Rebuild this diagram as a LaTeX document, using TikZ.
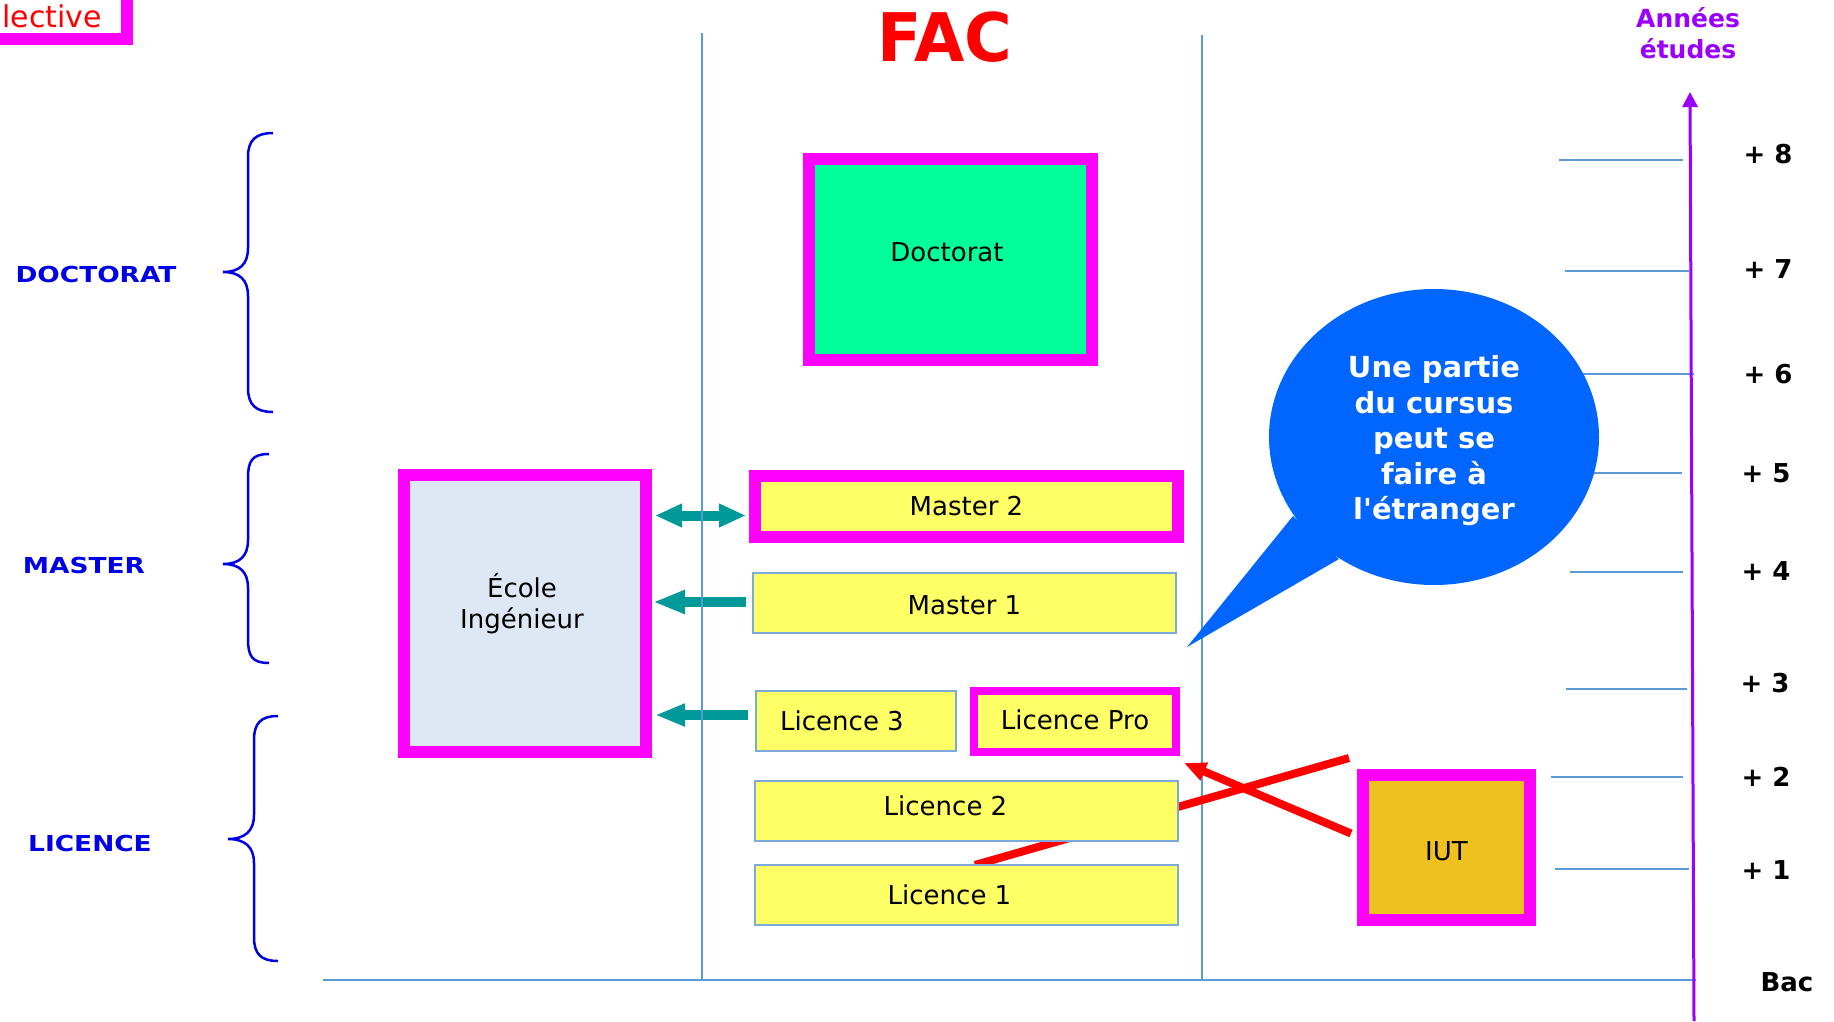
\documentclass[tikz,border=0pt]{standalone}
\usepackage{fontspec}
\setmainfont{DejaVu Sans}
\newfontfamily\bubfont{DejaVu Sans}
\usepackage{graphicx}
\usetikzlibrary{arrows.meta,calc,shapes.geometric}
\definecolor{mag}{RGB}{255,0,255}
\definecolor{ylw}{RGB}{255,255,102}
\definecolor{thinblue}{RGB}{125,170,220}
\definecolor{gridblue}{RGB}{91,155,213}
\definecolor{tealc}{RGB}{0,153,153}
\definecolor{bubblue}{RGB}{0,102,255}
\definecolor{iutc}{RGB}{238,192,32}
\definecolor{ecolec}{RGB}{222,232,244}
\definecolor{docc}{RGB}{0,255,153}
\definecolor{purp}{RGB}{153,0,255}
\definecolor{lblue}{RGB}{0,0,230}
\definecolor{redc}{RGB}{255,0,0}
\newcommand\myfs[2]{\fontsize{#1}{#2}\selectfont}
\newcommand\lift[1]{\rule[-#1]{0pt}{0pt}}
\pgfdeclarelayer{bg}
\pgfsetlayers{bg,main}
\newcommand\accol[6]{\draw[bracestyle] (#1,#4) .. controls +(-17,0) and +(0,-17) .. (#2,#4+24) -- (#2,#6-24) .. controls +(0,16) and +(17,0) .. (#3,#6) .. controls +(17,0) and +(0,-16) .. (#2,#6+24) -- (#2,#5-24) .. controls +(0,17) and +(-17,0) .. (#1,#5);}
\begin{document}
\begin{tikzpicture}[x=1pt,y=-1pt,
  box/.style={rectangle, inner sep=0pt, outer sep=0pt, font=\myfs{26}{31}},
  thickbox/.style={box, draw=mag, line width=12pt},
  thinbox/.style={box, draw=thinblue, line width=2pt, fill=ylw},
  gridline/.style={draw=gridblue, line width=1.5pt},
  tickline/.style={draw=gridblue, line width=2pt},
  tealarrow/.style={draw=tealc, line width=10pt},
  redline/.style={draw=redc, line width=8pt},
  bracestyle/.style={draw=lblue, line width=2.5pt},
  levellabel/.style={text=lblue, font=\bfseries\myfs{22}{22}, inner sep=0pt},
  yearlabel/.style={text=black, font=\bfseries\myfs{26}{26}, inner sep=0pt}]
\useasboundingbox (0,0) rectangle (1834,1021);

% ---- boxes ----
\node[thickbox, fill=docc, minimum width=283pt, minimum height=201pt] (doct) at (950.5,259.5) {};
\node[box] (doctxt) at (947,252) {Doctorat};
\node[thickbox, fill=ecolec, minimum width=242pt, minimum height=277pt] (ecole) at (525,613.5) {};
\node[box, align=center] (ecoletxt) at (522,604) {École\\Ingénieur};
\node[thickbox, fill=ylw, minimum width=423pt, minimum height=61pt] (m2) at (966.5,506.5) {Master 2};
\node[thinbox, minimum width=423pt, minimum height=60pt] (m1) at (964.5,603) {\rule{0pt}{23pt}Master 1};
\node[thinbox, minimum width=200pt, minimum height=60pt] (l3) at (856,721) {Licence 3\hspace*{28pt}};
\node[box, draw=mag, line width=8pt, fill=ylw, minimum width=202pt, minimum height=61pt] (lpro) at (1075,721.5) {\lift{4pt}Licence Pro};
\node[thinbox, minimum width=423pt, minimum height=60pt] (l2) at (966.5,811) {\lift{11pt}Licence 2\hspace*{42pt}};
\node[thinbox, minimum width=423pt, minimum height=60pt] (l1) at (966.5,895) {Licence 1\hspace*{34pt}};
\node[thickbox, fill=iutc, minimum width=167pt, minimum height=145pt] (iut) at (1446.5,847.5) {\rule{0pt}{27pt}IUT};

% ---- background: teal arrows, grid, red line ----
\begin{pgfonlayer}{bg}
\draw[tealarrow, {Triangle[length=27pt,width=22pt]}-{Triangle[length=27pt,width=22pt]}]
  ($(ecole.east |- m2.west)+(9,9)$) -- ($(m2.west)+(-9,9)$);
\draw[tealarrow, -{Triangle[length=32pt,width=22pt]}]
  ($(m1.west)+(-7,-1)$) -- ($(ecole.east |- m1.west)+(7,-1)$);
\draw[tealarrow, -{Triangle[length=30pt,width=21pt]}]
  ($(l3.west)+(-8,-6)$) -- ($(ecole.east |- l3.west)+(9,-6)$);
% grid
\draw[gridline] (702,33) -- (702,980);
\draw[gridline] (1202,35) -- (1202,980);
\draw[gridline] (323,980) -- (1696,980);
\draw[tickline] (1559,160) -- (1683,160);
\draw[tickline] (1565,271) -- (1689,271);
\draw[tickline] (1570,374) -- (1694,374);
\draw[tickline] (1570,473) -- (1682,473);
\draw[tickline] (1570,572) -- (1683,572);
\draw[tickline] (1566,689) -- (1687,689);
\draw[tickline] (1551,777) -- (1683,777);
\draw[tickline] (1555,869) -- (1689,869);
% red line behind Licence 2
\draw[redline] ($(l1.north west)+(220,0)$) -- ($(iut.north west)+(-14,-17)$);
\end{pgfonlayer}

% red arrow
\draw[redline, -{Triangle[length=22pt,width=18pt]}] ($(iut.west)+(-12,-14)$) -- ($(lpro.south east)+(8,11)$);

% ---- braces and level labels ----
\accol{273}{248}{223}{133}{412}{272}
\accol{269}{248}{223}{454}{663}{564}
\accol{278}{254}{228}{716}{961}{839}
\node[levellabel] (lbdoc) at (96,274) {\scalebox{1.2}[1]{DOCTORAT}};
\node[levellabel] (lbmas) at (84,565) {\scalebox{1.2}[1]{MASTER}};
\node[levellabel] (lblic) at (90,843) {\scalebox{1.2}[1]{LICENCE}};

% ---- bubble ----
\node[ellipse, fill=bubblue, minimum width=330pt, minimum height=296pt, inner sep=0pt,
      text=white, font=\bubfont\bfseries\myfs{29}{35.5}, align=center] (bubble) at (1434,437)
      {\rule{0pt}{30pt}Une partie\\du cursus\\peut se\\faire à\\l'étranger};
\fill[bubblue] ($(bubble.center)+(-141,79)$) -- (1187,647) -- ($(bubble.center)+(-95,122)$) -- cycle;

% ---- axis ----
\coordinate (axbot) at (1694,1021);
\coordinate (axtop) at (1690,92);
\draw[purp, line width=3pt, -{Triangle[length=15pt,width=15pt]}] (axbot) -- (axtop);
\node[text=purp, font=\bfseries\myfs{25}{31}, align=center, inner sep=0pt] (annees) at (1688,33) {Années\\études};
\node[yearlabel] (y8) at (1768,154) {+ 8};
\node[yearlabel] (y7) at (1768,269) {+ 7};
\node[yearlabel] (y6) at (1768,374) {+ 6};
\node[yearlabel] (y5) at (1766,473) {+ 5};
\node[yearlabel] (y4) at (1766,571) {+ 4};
\node[yearlabel] (y3) at (1765,683) {+ 3};
\node[yearlabel] (y2) at (1766,777) {+ 2};
\node[yearlabel] (y1) at (1766,870) {+ 1};
\node[yearlabel] (bac) at (1787,982) {Bac};

% ---- titles ----
\node[text=redc, font=\bfseries\myfs{67}{67}, inner sep=0pt] (fac) at (945,37) {\scalebox{0.97}[1]{FAC}};
\node[draw=mag, line width=12pt, anchor=base east, inner xsep=25pt, inner ysep=12pt, outer sep=0pt,
      font=\myfs{30}{30}, text=redc] (sel) at (127,27) {lective};
\end{tikzpicture}
\end{document}
